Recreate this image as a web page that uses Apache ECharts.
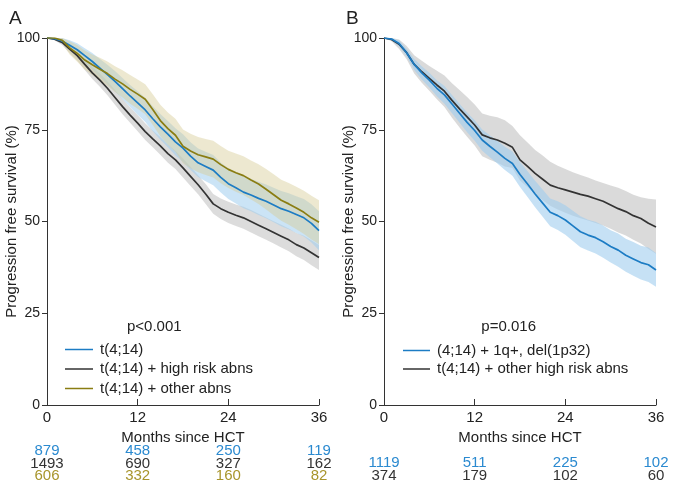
<!DOCTYPE html>
<html>
<head>
<meta charset="utf-8">
<script src="https://cdn.jsdelivr.net/npm/echarts@6/dist/echarts.min.js"></script>
<style>
html,body{margin:0;padding:0;background:#fff;}
#chart{width:685px;height:494px;}
</style>
</head>
<body>
<div id="chart"></div>
<script>
// ---------- DATA ----------
const months = [0,1,2,3,4,5,6,7,8,9,10,11,12,13,14,15,16,17,18,19,20,21,22,23,24,25,26,27,28,29,30,31,32,33,34,35,36];
const xTicks = [0,12,24,36];

// Panel A
const aNames = ['t(4;14)', 't(4;14) + high risk abns', 't(4;14) + other abns'];
const aBlue  = [100,99.8,99.2,98,96.8,95.2,93.6,91.8,90,88.2,86.2,84.2,82.3,80.4,78,75.8,73.8,71.7,70,67.8,66,65,64,62,60.3,59.2,58,57.2,56.3,55.5,54.5,53.5,52.8,51.9,51,49.5,47.5];
const aBlueLo= [100,99.5,98.4,96.6,95,93.2,91.3,89.3,87.3,85.4,83.3,81.2,79.1,77.1,74.6,72.3,70.2,68,66.2,64,62.1,61,59.9,57.9,56.1,54.9,53.6,52.8,51.8,50.9,49.8,48.7,47.9,46.9,45.9,44.3,42.2];
const aBlueHi= [100,100,100,99.4,98.6,97.2,95.9,94.3,92.7,91,89.1,87.2,85.5,83.7,81.4,79.3,77.4,75.4,73.8,71.6,69.9,69,68.1,66.1,64.5,63.5,62.4,61.6,60.8,60.1,59.2,58.3,57.7,56.9,56.1,54.7,52.8];
const aBlack  = [100,99.7,98.8,97,95.2,92.8,90.5,88.5,86.3,83.8,81.3,79,76.8,74.5,72.5,70.6,68.5,66.8,64.6,62.3,60,57.5,54.8,53.5,52.5,51.7,51,50,49,48,47,46,45,43.7,42.8,41.5,40.2];
const aBlackLo= [100,99.4,98.1,95.9,93.9,91.3,88.8,86.7,84.4,81.8,79.2,76.9,74.6,72.2,70.2,68.2,66,64.3,62,59.7,57.4,54.8,52.1,50.7,49.6,48.8,48,47,46,45,44,42.9,41.9,40.5,39.5,38.1,36.8];
const aBlackHi= [100,100,99.5,98.1,96.5,94.3,92.2,90.3,88.2,85.8,83.4,81.1,79,76.8,74.8,73,71,69.3,67.2,64.9,62.6,60.2,57.5,56.3,55.4,54.6,54,53.1,52.1,51.1,50.1,49.1,48.1,46.9,46.1,44.9,43.6];
const aOlive  = [100,100,99.4,97.3,95.8,94,92.7,91.5,90.3,88.8,87.5,86,84.7,83.3,80.5,77.5,75.3,73.5,70.5,69.2,68.2,67.6,67,65.5,64.2,63.3,62.5,61.3,60.2,58.8,57.3,55.8,54.8,53.7,52.5,51,49.8];
const aOliveLo= [100,99.8,98.5,95.5,93.5,91.4,89.9,88.4,87,85.3,83.8,82.1,80.7,79.2,76.3,73.2,70.9,69,65.9,64.5,63.4,62.7,62,60.4,59.1,58.1,57.2,56,54.8,53.3,51.7,50.2,49.1,47.9,46.6,45.1,43.8];
const aOliveHi= [100,100,100,99.1,98.1,96.6,95.5,94.6,93.6,92.3,91.2,89.9,88.7,87.4,84.7,81.8,79.7,78,75.1,73.9,73,72.5,72,70.6,69.3,68.5,67.8,66.6,65.6,64.3,62.9,61.4,60.5,59.5,58.4,57,55.8];
const aRiskBlue  = ['879','458','250','119'];
const aRiskBlack = ['1493','690','327','162'];
const aRiskOlive = ['606','332','160','82'];
const aP = 'p<0.001';

// Panel B
const bNames = ['(4;14) + 1q+, del(1p32)', 't(4;14) + other high risk abns'];
const bBlue  = [100,99.7,98.5,96,92.8,90.5,88.5,86.3,84.5,82,79.5,77,74.8,72.2,70.5,68.9,67.2,65.8,62.8,60.2,57.5,55,52.5,51.6,50.4,48.8,47.2,46.3,45.6,44.5,43.2,42.2,40.8,39.8,38.8,38.2,36.8];
const bBlueLo= [100,99.4,97.7,94.9,91.3,88.7,86.5,84.1,82.1,79.5,76.9,74.3,72,69.3,67.5,65.8,64,62.5,59.4,56.7,53.9,51.3,48.7,47.7,46.4,44.7,43,42.1,41.3,40.1,38.8,37.7,36.3,35.2,34.2,33.5,32.2];
const bBlueHi= [100,100,99.3,97.1,94.3,92.3,90.5,88.5,86.9,84.5,82.1,79.7,77.6,75.1,73.5,72,70.4,69.1,66.2,63.7,61.1,58.7,56.3,55.5,54.4,52.9,51.4,50.5,49.9,48.9,47.6,46.7,45.3,44.4,43.4,42.9,41.4];
const bBlack  = [100,99.6,98.3,96,92.8,90.8,89,87.2,85.5,83,80.7,78.5,76.3,73.6,72.8,72.2,71.3,70.2,66.8,65,63.1,61.5,59.9,59.2,58.6,58,57.4,56.9,56.2,55.5,54.5,53.5,52.7,51.6,50.8,49.5,48.5];
const bBlackLo= [100,99.1,97,94.2,90.3,87.8,85.6,83.3,81.2,78.3,75.6,73.1,70.7,67.8,66.8,66,65,64.6,61.2,59.3,57.4,55.8,54.3,53.3,52.4,51.6,50.9,50.3,49.6,48.9,48,47,46.2,45,44,42.5,41.2];
const bBlackHi= [100,100,99.6,97.8,95.3,93.8,92.4,91.1,89.8,87.7,85.8,83.9,81.9,79.4,78.8,78.4,77.6,76,73.5,71.5,69.5,68,66.3,65.2,64.3,63.4,62.7,62,61.2,60.5,59.8,59.2,58.3,57.3,56.6,56.2,56];
const bRiskBlue  = ['1119','511','225','102'];
const bRiskBlack = ['374','179','102','60'];
const bP = 'p=0.016';

// ---------- STYLE ----------
const C_BLUE = '#1c7cc4', C_BLACK = '#333333', C_OLIVE = '#8a7d12';
const T_BLUE = '#2b8ad0', T_BLACK = '#333333', T_OLIVE = '#a8952c';
const FONT = 'Liberation Sans, Arial, sans-serif';

const chart = echarts.init(document.getElementById('chart'));

function pairs(ys){ return months.map((m,i)=>[m, ys[i]]); }

function bandSeries(name, gi, lo, hi, color){
  return {
    type:'custom', name: name, xAxisIndex:gi, yAxisIndex:gi, silent:true, z:1,
    clip:true,
    data:[[0,0]],
    renderItem:function(params, api){
      const up=[], dn=[];
      for(let i=0;i<months.length;i++){
        up.push(api.coord([months[i], hi[i]]));
        dn.push(api.coord([months[i], lo[i]]));
      }
      const pts = up.concat(dn.reverse());
      return {type:'polygon', shape:{points:pts}, style:{fill:color}};
    }
  };
}
function lineSeries(name, gi, ys, color){
  return {
    type:'line', name:name, xAxisIndex:gi, yAxisIndex:gi,
    data:pairs(ys), showSymbol:false, symbol:'none', z:3,
    lineStyle:{color:color, width:1.7}, itemStyle:{color:color}, emphasis:{disabled:true}
  };
}

function xAxisDef(gi){
  return {
    type:'value', gridIndex:gi, min:0, max:36, interval:12,
    name:'Months since HCT', nameLocation:'middle', nameGap:25,
    nameTextStyle:{color:'#222', fontSize:15, fontFamily:FONT},
    axisLine:{show:true, lineStyle:{color:'#333', width:1}},
    axisTick:{show:true, inside:true, length:6, lineStyle:{color:'#333'}},
    axisLabel:{color:'#222', fontSize:15, fontFamily:FONT, margin:5},
    splitLine:{show:false}
  };
}
function yAxisDef(gi){
  return {
    type:'value', gridIndex:gi, min:0, max:100, interval:25,
    name:'Progression free survival (%)', nameLocation:'middle', nameGap:28, nameMoveOverlap:false,
    nameTextStyle:{color:'#222', fontSize:15, fontFamily:FONT},
    axisLine:{show:true, lineStyle:{color:'#333', width:1}},
    axisTick:{show:true, length:5, lineStyle:{color:'#333'}},
    axisLabel:{color:'#222', fontSize:14, fontFamily:FONT, margin:7},
    splitLine:{show:false}
  };
}

const option = {
  animation:false,
  backgroundColor:'#fff',
  grid:[
    {left:47, top:38, width:272, height:367, containLabel:false, outerBoundsMode:'none'},
    {left:384, top:38, width:272, height:367, containLabel:false, outerBoundsMode:'none'}
  ],
  xAxis:[xAxisDef(0), xAxisDef(1)],
  yAxis:[yAxisDef(0), yAxisDef(1)],
  legend:[
    {data:aNames, orient:'vertical', left:60, top:337, icon:'rect', itemWidth:28, itemHeight:1.5,
     itemGap:4.5, selectedMode:false, textStyle:{color:'#222', fontSize:15, fontFamily:FONT, padding:[0,0,0,2]}},
    {data:bNames, orient:'vertical', left:398, top:338, icon:'rect', itemWidth:27, itemHeight:1.5,
     itemGap:3.5, selectedMode:false, textStyle:{color:'#222', fontSize:15, fontFamily:FONT, padding:[0,0,0,2]}}
  ],
  series:[
    bandSeries('bandA1', 0, aBlackLo, aBlackHi, 'rgba(205,205,205,0.7)'),
    bandSeries('bandA0', 0, aBlueLo, aBlueHi, 'rgba(160,205,238,0.55)'),
    bandSeries('bandA2', 0, aOliveLo, aOliveHi, 'rgba(215,205,150,0.45)'),
    lineSeries(aNames[1], 0, aBlack, C_BLACK),
    lineSeries(aNames[0], 0, aBlue, C_BLUE),
    lineSeries(aNames[2], 0, aOlive, C_OLIVE),
    bandSeries('bandB1', 1, bBlackLo, bBlackHi, 'rgba(205,205,205,0.75)'),
    bandSeries('bandB0', 1, bBlueLo, bBlueHi, 'rgba(160,205,238,0.6)'),
    lineSeries(bNames[1], 1, bBlack, C_BLACK),
    lineSeries(bNames[0], 1, bBlue, C_BLUE)
  ]
};
chart.setOption(option);

// text annotations placed through the axes' scales
function riskTexts(gi, rows){
  const els = [];
  rows.forEach(function(r){
    xTicks.forEach(function(m, j){
      const px = chart.convertToPixel({xAxisIndex:gi}, m);
      els.push({type:'text', x:px, y:r.y, style:{text:r.vals[j], fill:r.color, fontSize:15, fontFamily:FONT, textAlign:'center', textVerticalAlign:'middle'}});
    });
  });
  return els;
}
const pxA = chart.convertToPixel({xAxisIndex:0}, 14.2);
const pxB = chart.convertToPixel({xAxisIndex:1}, 16.5);
const pY = chart.convertToPixel({yAxisIndex:0}, 21.3);
const graphics = [
  {type:'text', left:9, top:9, style:{text:'A', fontSize:19, fill:'#222', fontFamily:FONT}},
  {type:'text', left:346, top:9, style:{text:'B', fontSize:19, fill:'#222', fontFamily:FONT}},
  {type:'text', x:pxA, y:pY, style:{text:aP, fontSize:15, fill:'#222', fontFamily:FONT, textAlign:'center', textVerticalAlign:'middle'}},
  {type:'text', x:pxB, y:pY, style:{text:bP, fontSize:15, fill:'#222', fontFamily:FONT, textAlign:'center', textVerticalAlign:'middle'}}
].concat(
  riskTexts(0, [
    {vals:aRiskBlue, color:T_BLUE, y:451},
    {vals:aRiskBlack, color:T_BLACK, y:463.5},
    {vals:aRiskOlive, color:T_OLIVE, y:476}
  ]),
  riskTexts(1, [
    {vals:bRiskBlue, color:T_BLUE, y:463},
    {vals:bRiskBlack, color:T_BLACK, y:476}
  ])
);
chart.setOption({graphic:graphics});
</script>
</body>
</html>
